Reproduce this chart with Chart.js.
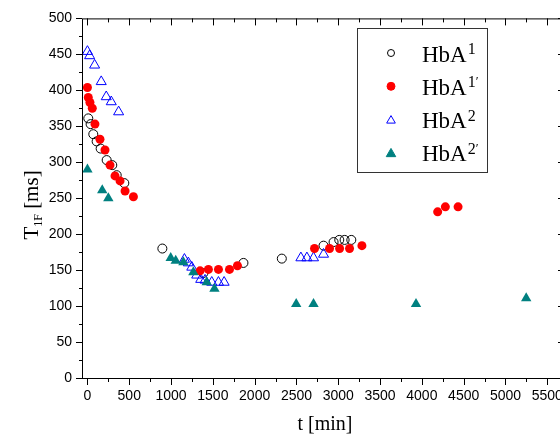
<!DOCTYPE html>
<html>
<head>
<meta charset="utf-8">
<script src="https://cdn.jsdelivr.net/npm/chart.js@4"></script>
<style>
  html, body { margin: 0; padding: 0; background: #fff; overflow: hidden; }
  #wrap { width: 580px; height: 435px; position: relative; }
</style>
</head>
<body>
<div id="wrap"><canvas id="t1f_chart"></canvas></div>
<script>
// t [min] / T1F [ms]
const hba1X  = [10, 38, 70, 110, 158, 230, 297, 350, 441, 896, 1387, 1866, 2325, 2824, 2944, 3012, 3076, 3156];
const hba1Y  = [361, 353, 339, 329, 319, 303, 296, 282, 271, 180, 146, 160, 166, 184, 189, 192, 192, 192];
const hba1pX = [0, 10, 30, 58, 90, 150, 210, 270, 330, 390, 450, 550, 1347, 1447, 1567, 1699, 1794, 2716, 2896, 3016, 3135, 3283, 4189, 4281, 4433];
const hba1pY = [404, 390, 383, 375, 353, 332, 317, 296, 281, 274, 260, 252, 149, 151, 151, 151, 156, 180, 180, 180, 180, 184, 231, 238, 238];
const hba2X  = [0, 26, 86, 165, 225, 285, 373, 1160, 1207, 1248, 1307, 1355, 1407, 1487, 1567, 1635, 2553, 2625, 2704, 2824];
const hba2Y  = [454, 448, 435, 412, 391, 384, 370, 165, 160, 154, 143, 137, 136, 133, 133, 133, 167, 167, 167, 172];
const hba2pX = [0, 177, 250, 996, 1056, 1148, 1267, 1427, 1519, 2497, 2704, 3930, 5248];
const hba2pY = [290, 261, 250, 167, 163, 161, 147, 133, 124, 103, 103, 103, 111];

const X_TICKS = [0, 500, 1000, 1500, 2000, 2500, 3000, 3500, 4000, 4500, 5000, 5500];
const X_MINOR = [250, 750, 1250, 1750, 2250, 2750, 3250, 3750, 4250, 4750, 5250, 5750];
const Y_TICKS = [0, 50, 100, 150, 200, 250, 300, 350, 400, 450, 500];
const Y_MINOR = [25, 75, 125, 175, 225, 275, 325, 375, 425, 475];

const SERIF = "'Liberation Serif', 'Times New Roman', serif";
const SANS  = "'Liberation Sans', Arial, sans-serif";

const pts = (xs, ys) => xs.map((x, i) => ({ x, y: ys[i] }));

const LEGEND = [
  { sup: "1",  prime: false, style: "circle",   fill: "rgba(0,0,0,0)", stroke: "#000",    r: 3.5 },
  { sup: "1",  prime: true,  style: "circle",   fill: "#ff0000",       stroke: "#ff0000", r: 4 },
  { sup: "2",  prime: false, style: "triangle", fill: "rgba(0,0,0,0)", stroke: "#0000ff", r: 5 },
  { sup: "2",  prime: true,  style: "triangle", fill: "#008080",       stroke: "#008080", r: 5.5 },
];

// frame, ticks, axis titles and legend
const framePlugin = {
  id: "frame",
  afterDraw(chart) {
    const { ctx, chartArea: a } = chart;
    const xs = chart.scales.x, ys = chart.scales.y;
    ctx.save();
    ctx.strokeStyle = "#000";
    ctx.lineWidth = 1;
    ctx.strokeRect(a.left + 0.5, a.top + 0.5, a.right - a.left, a.bottom - a.top);

    ctx.beginPath();
    const xt = (vals, len) => vals.forEach((v) => {
      const px = Math.round(xs.getPixelForValue(v)) + 0.5;
      if (px < a.left || px > a.right) return;
      ctx.moveTo(px, a.bottom); ctx.lineTo(px, a.bottom + len);
      ctx.moveTo(px, a.top);    ctx.lineTo(px, a.top + len);
    });
    const yt = (vals, len) => vals.forEach((v) => {
      const py = Math.round(ys.getPixelForValue(v)) + 0.5;
      ctx.moveTo(a.left, py);  ctx.lineTo(a.left - len, py);
      ctx.moveTo(a.right, py); ctx.lineTo(a.right - len, py);
    });
    xt(X_TICKS, 7); xt(X_MINOR, 4);
    yt(Y_TICKS, 6); yt(Y_MINOR, 3);
    ctx.stroke();

    // x title
    ctx.fillStyle = "#000";
    ctx.font = "20px " + SERIF;
    ctx.textAlign = "center";
    ctx.textBaseline = "alphabetic";
    ctx.fillText("t [min]", 325, 430);

    // y title with subscript
    ctx.save();
    ctx.translate(38, 205);
    ctx.rotate(-Math.PI / 2);
    ctx.textAlign = "left";
    const parts = [["T", 21, 0], ["1F", 12, 4], [" [ms]", 21, 0]];
    let w = 0;
    parts.forEach(([t, s]) => { ctx.font = s + "px " + SERIF; w += ctx.measureText(t).width; });
    let cx = -w / 2;
    parts.forEach(([t, s, dy]) => {
      ctx.font = s + "px " + SERIF;
      ctx.fillText(t, cx, dy);
      cx += ctx.measureText(t).width;
    });
    ctx.restore();

    // legend
    ctx.strokeStyle = "#333";
    ctx.strokeRect(357.5, 28.5, 130, 144);
    LEGEND.forEach((l, i) => {
      const y = 53 + i * 33.3;
      ctx.fillStyle = l.fill;
      ctx.strokeStyle = l.stroke;
      ctx.lineWidth = 1;
      Chart.helpers.drawPoint(ctx, { pointStyle: l.style, radius: l.r, borderWidth: 1 }, 391, y + (l.style === "triangle" ? 1 : 0));
      ctx.fillStyle = "#000";
      ctx.textAlign = "left";
      ctx.font = "23px " + SERIF;
      ctx.fillText("HbA", 422, y + 8.5);
      const hw = ctx.measureText("HbA").width;
      ctx.font = "16px " + SERIF;
      ctx.fillText(l.sup, 422 + hw + 1, y + 1);
      if (l.prime) {
        const sw = ctx.measureText(l.sup).width;
        ctx.font = "13px " + SERIF;
        ctx.fillText("\u2032", 422 + hw + 1 + sw, y - 1);
      }
    });
    ctx.restore();
  },
};

const c2d = document.getElementById("t1f_chart").getContext("2d");

window.t1f_chart_instance = new Chart(c2d, {
  type: "scatter",
  data: {
    datasets: [
      { label: "HbA1", data: pts(hba1X, hba1Y), order: 4, pointStyle: "circle", pointRadius: 4.5,
        backgroundColor: "rgba(0,0,0,0)", borderColor: "#000", borderWidth: 1 },
      { label: "HbA2", data: pts(hba2X, hba2Y), order: 3, pointStyle: "triangle", pointRadius: 5.8,
        backgroundColor: "rgba(0,0,0,0)", borderColor: "#0000ff", borderWidth: 1 },
      { label: "HbA1'", data: pts(hba1pX, hba1pY), order: 2, pointStyle: "circle", pointRadius: 4.5,
        backgroundColor: "#ff0000", borderColor: "#ff0000", borderWidth: 0 },
      { label: "HbA2'", data: pts(hba2pX, hba2pY), order: 1, pointStyle: "triangle", pointRadius: 6,
        backgroundColor: "#008080", borderColor: "#008080", borderWidth: 0 },
    ],
  },
  options: {
    responsive: true,
    maintainAspectRatio: false,
    animation: false,
    layout: { padding: { left: 0, top: 18, right: 16, bottom: 0 } },
    plugins: { legend: { display: false }, tooltip: { enabled: false } },
    scales: {
      x: {
        type: "linear", min: -65, max: 5700,
        grid: { display: false, drawTicks: false },
        border: { display: false },
        ticks: { color: "#000", font: { family: SANS, size: 14 }, padding: 10, maxRotation: 0, autoSkip: false,
                 callback: (v) => String(v) },
        afterBuildTicks: (s) => { s.ticks = X_TICKS.map((v) => ({ value: v })); },
        afterFit: (s) => { s.height = 57; },
      },
      y: {
        type: "linear", min: 0, max: 500,
        grid: { display: false, drawTicks: false },
        border: { display: false },
        ticks: { color: "#000", font: { family: SANS, size: 14 }, padding: 10, callback: (v) => String(v) },
        afterBuildTicks: (s) => { s.ticks = Y_TICKS.map((v) => ({ value: v })); },
        afterFit: (s) => { s.width = 82; },
      },
    },
  },
  plugins: [framePlugin],
});
</script>
</body>
</html>
